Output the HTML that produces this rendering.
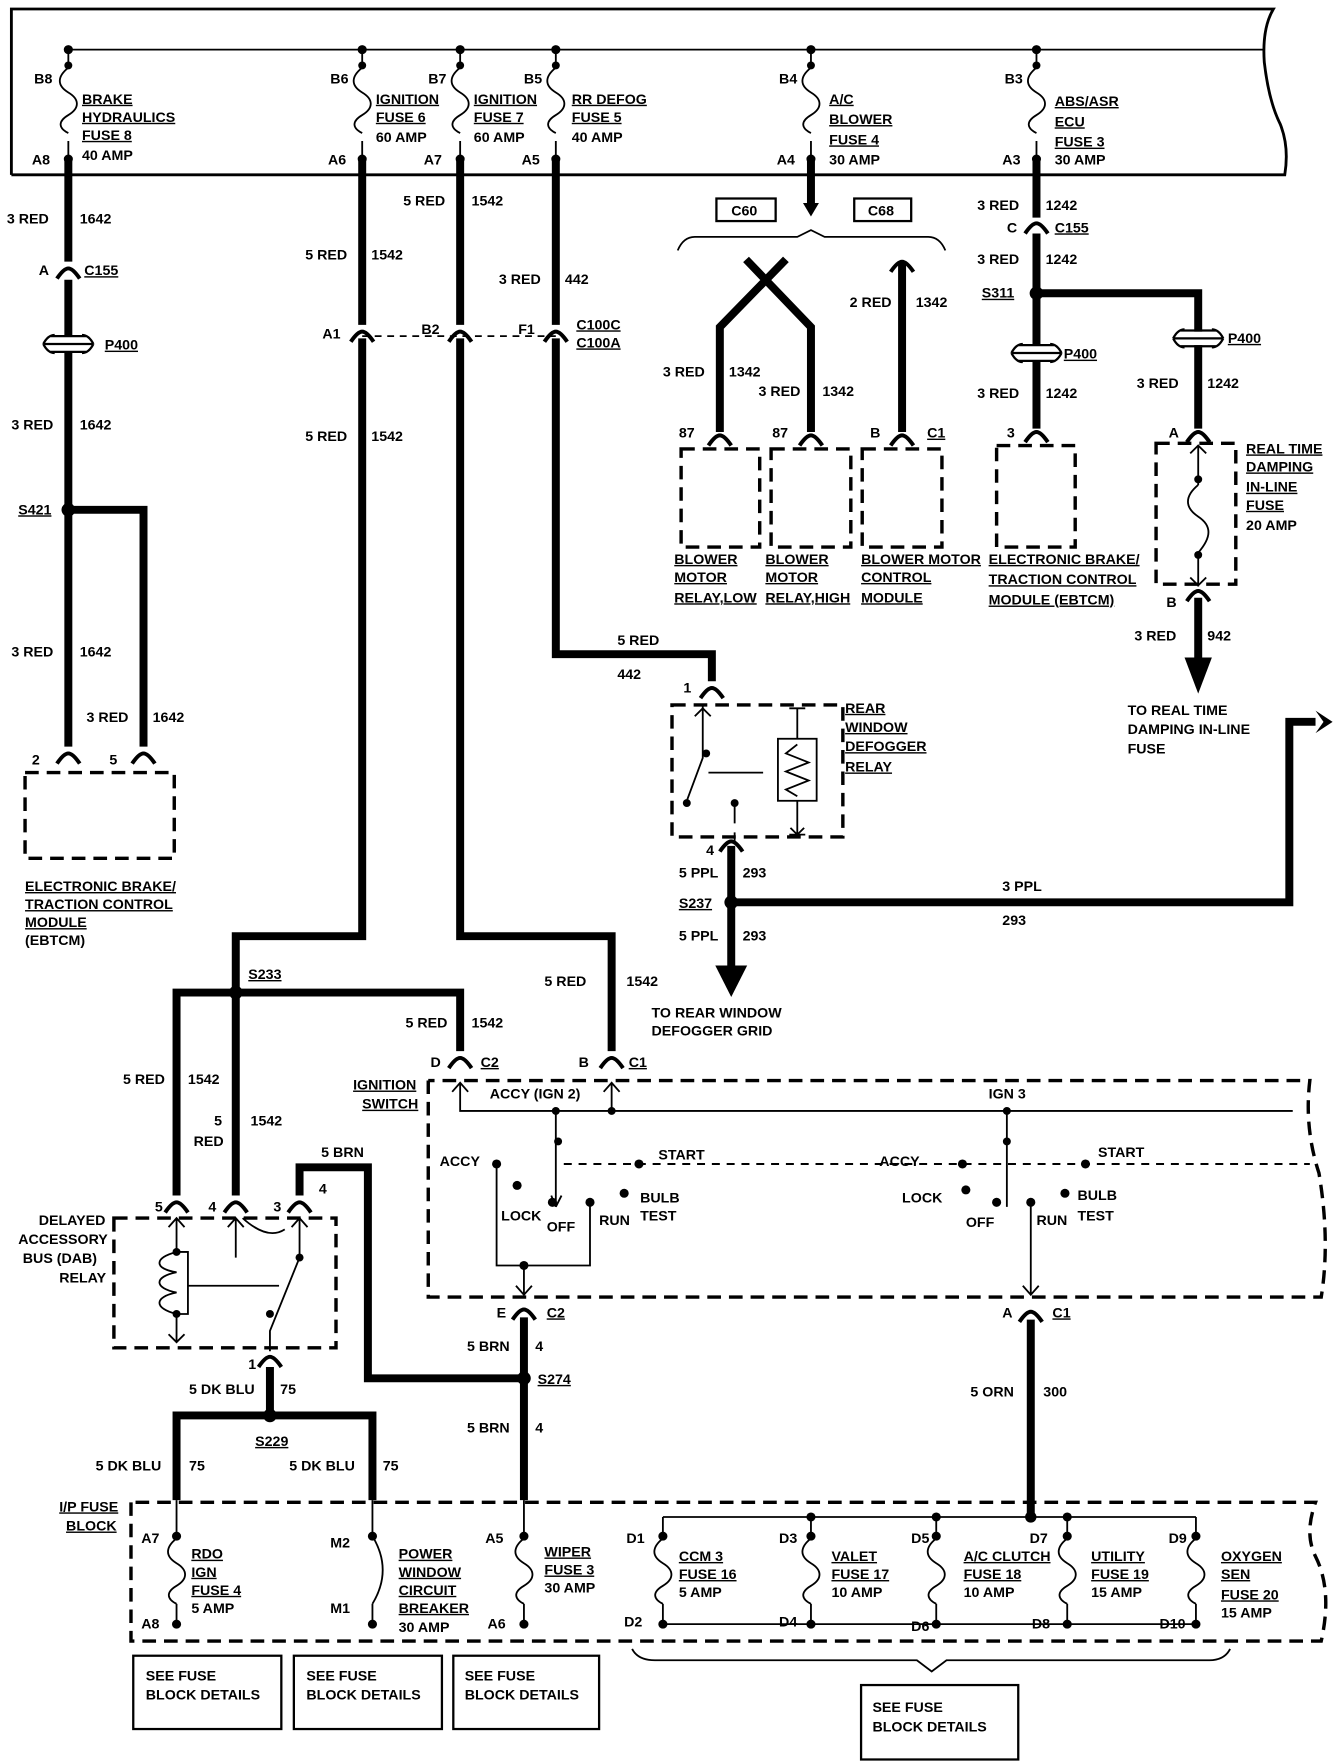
<!DOCTYPE html>
<html><head><meta charset="utf-8"><style>
html,body{margin:0;padding:0;background:#fff}
svg{display:block}
text{font-family:"Liberation Sans",sans-serif;font-size:12.5px;font-weight:bold;fill:#000}
.u{text-decoration:underline}
</style></head><body>
<svg width="1344" height="1764" viewBox="0 0 1180 1564" preserveAspectRatio="none" xmlns="http://www.w3.org/2000/svg">
<defs>
<g id="fz"><path d="M0,-28 C-10,-20 -10,-12 0,-6 C10,0 10,8 0,14 C-10,20 -8,26 0,30" fill="none" stroke="#000" stroke-width="1.6"/></g>
<g id="cn"><path d="M-10,7 Q-4,-2 0,-2 Q4,-2 10,7" fill="none" stroke="#000" stroke-width="3.5"/></g>
<g id="p4"><path d="M-22,0 H22 M-16,-7 H16 M-16,7 H16 M-22,0 Q-18,-8 -12,-8 M22,0 Q18,-8 12,-8 M-22,0 Q-18,8 -12,8 M22,0 Q18,8 12,8" fill="none" stroke="#000" stroke-width="2"/></g>
</defs>
<g fill="none" stroke="#000">
<path d="M10,155 V8 H1118 Q1108,25 1110,55 Q1114,90 1124,110 Q1132,130 1128,155 H10" stroke-width="2.5"/>
<path d="M60,44 H1110" stroke-width="1.6"/>
<g stroke-width="1.6">
<path d="M60,44V55 M60,125V141 M318,44V55 M318,125V141 M404,44V55 M404,125V141 M488,44V55 M488,125V141 M712,44V55 M712,125V141 M910,44V55 M910,125V141"/>
</g>
<use href="#fz" x="60" y="88"/><use href="#fz" x="318" y="88"/><use href="#fz" x="404" y="88"/><use href="#fz" x="488" y="88"/><use href="#fz" x="712" y="88"/><use href="#fz" x="910" y="88"/>
</g>
<g fill="#000">
<circle cx="60" cy="44" r="4"/><circle cx="318" cy="44" r="4"/><circle cx="404" cy="44" r="4"/><circle cx="488" cy="44" r="4"/><circle cx="712" cy="44" r="4"/><circle cx="910" cy="44" r="4"/>
<circle cx="60" cy="58" r="3.5"/><circle cx="318" cy="58" r="3.5"/><circle cx="404" cy="58" r="3.5"/><circle cx="488" cy="58" r="3.5"/><circle cx="712" cy="58" r="3.5"/><circle cx="910" cy="58" r="3.5"/>
<circle cx="60" cy="141" r="4"/><circle cx="318" cy="141" r="4"/><circle cx="404" cy="141" r="4"/><circle cx="488" cy="141" r="4"/><circle cx="712" cy="141" r="4"/><circle cx="910" cy="141" r="4"/>
</g>
<text x="30" y="74">B8</text><text x="28" y="146">A8</text>
<text x="72" y="92" class="u">BRAKE</text><text x="72" y="108" class="u">HYDRAULICS</text><text x="72" y="124" class="u">FUSE 8</text><text x="72" y="142">40 AMP</text>
<text x="290" y="74">B6</text><text x="288" y="146">A6</text>
<text x="330" y="92" class="u">IGNITION</text><text x="330" y="108" class="u">FUSE 6</text><text x="330" y="126">60 AMP</text>
<text x="376" y="74">B7</text><text x="372" y="146">A7</text>
<text x="416" y="92" class="u">IGNITION</text><text x="416" y="108" class="u">FUSE 7</text><text x="416" y="126">60 AMP</text>
<text x="460" y="74">B5</text><text x="458" y="146">A5</text>
<text x="502" y="92" class="u">RR DEFOG</text><text x="502" y="108" class="u">FUSE 5</text><text x="502" y="126">40 AMP</text>
<text x="684" y="74">B4</text><text x="682" y="146">A4</text>
<text x="728" y="92" class="u">A/C</text><text x="728" y="110" class="u">BLOWER</text><text x="728" y="128" class="u">FUSE 4</text><text x="728" y="146">30 AMP</text>
<text x="882" y="74">B3</text><text x="880" y="146">A3</text>
<text x="926" y="94" class="u">ABS/ASR</text><text x="926" y="112" class="u">ECU</text><text x="926" y="130" class="u">FUSE 3</text><text x="926" y="146">30 AMP</text>

<g fill="none" stroke="#000" stroke-width="7" stroke-linejoin="miter">
<path d="M60,141 V232 M60,248 V298 M60,312 V662"/>
<path d="M60,452 H126 V662"/>
<path d="M318,141 V288 M318,300 V830 H207 V1060"/>
<path d="M207,880 H155 V1060 M207,880 H404 V932"/>
<path d="M404,141 V288 M404,300 V830 H537 V932"/>
<path d="M488,141 V288 M488,300 V580 H625 V604"/>
<path d="M712,141 V180"/>
<path d="M632,383 V290 L690,230 M712,383 V290 L655,230 M792,232 V383"/>
<path d="M910,141 V193 M910,207 V306 M910,320 V380"/>
<path d="M910,260 H1052 V294 M1052,306 V380"/>
<path d="M1052,530 V585"/>
<path d="M642,750 V858"/>
<path d="M642,800 H1132 V640 H1155"/>
<path d="M263,1060 V1035 H323 V1222 H460"/>
<path d="M460,1168 V1330"/>
<path d="M237,1212 V1255 M155,1330 V1255 H327 V1330"/>
<path d="M905,1170 V1342"/>
</g>
<g fill="#000">
<path d="M1040,583 H1064 L1052,615 Z"/>
<path d="M628,856 H656 L642,884 Z"/>
<path d="M1155,630 L1170,640 L1155,650 L1162,640 Z"/>
<path d="M705,180 H719 L712,192 Z"/>
</g>
<g>
<use href="#cn" x="60" y="240"/><use href="#cn" x="318" y="296"/><use href="#cn" x="404" y="296"/><use href="#cn" x="488" y="296"/>
<use href="#cn" x="60" y="670"/><use href="#cn" x="126" y="670"/>
<use href="#cn" x="632" y="388"/><use href="#cn" x="712" y="388"/><use href="#cn" x="792" y="388"/><use href="#cn" x="792" y="234"/>
<use href="#cn" x="910" y="200"/><use href="#cn" x="910" y="385"/><use href="#cn" x="1052" y="385"/><use href="#cn" x="1052" y="526"/>
<use href="#cn" x="625" y="612"/><use href="#cn" x="642" y="748"/>
<use href="#cn" x="404" y="940"/><use href="#cn" x="537" y="940"/>
<use href="#cn" x="155" y="1068"/><use href="#cn" x="207" y="1068"/><use href="#cn" x="263" y="1068"/><use href="#cn" x="237" y="1205"/>
<use href="#cn" x="460" y="1163"/><use href="#cn" x="905" y="1165"/>
<use href="#p4" x="60" y="305"/><use href="#p4" x="910" y="313"/><use href="#p4" x="1052" y="300"/>
</g>
<g fill="#000">
<circle cx="60" cy="452" r="6"/><circle cx="910" cy="260" r="6"/><circle cx="642" cy="800" r="6"/><circle cx="207" cy="880" r="6"/><circle cx="460" cy="1222" r="6"/><circle cx="237" cy="1255" r="6"/>
</g>
<g fill="none" stroke="#000" stroke-width="1.5">
<path d="M318,298 H488" stroke-dasharray="6,5"/>
<rect x="629" y="176" width="52" height="20" stroke-width="2"/>
<rect x="750" y="176" width="50" height="20" stroke-width="2"/>
<path d="M595,222 Q600,210 610,210 H700 L712,204 L724,210 H815 Q825,210 830,222"/>
</g>
<g fill="none" stroke="#000" stroke-width="3" stroke-dasharray="12,7">
<rect x="22" y="685" width="131" height="76"/>
<rect x="598" y="398" width="69" height="87"/>
<rect x="677" y="398" width="70" height="87"/>
<rect x="757" y="398" width="70" height="87"/>
<rect x="875" y="395" width="69" height="90"/>
<rect x="1015" y="393" width="70" height="125"/>
<rect x="590" y="625" width="150" height="117"/>
<rect x="100" y="1080" width="195" height="115"/>
<path d="M376,958 V1150 H1160 Q1168,1100 1158,1040 Q1145,1000 1150,958 H376"/>
<path d="M115,1332 V1455 H1160 Q1170,1410 1155,1380 Q1145,1360 1155,1332 H115"/>
<path d="M495,1032 H1150" stroke-width="1.8" stroke-dasharray="7,6"/>
</g>
<g fill="none" stroke="#000" stroke-width="1.6">
<path d="M617,625 V672 L603,710 M645,710 V730 M645,738 V748 M622,685 H670" />
<path d="M610,635 L617,628 L624,635 M693,628 H707 M700,628 V655 M693,740 H707 M700,710 V740 M694,734 L700,740 L706,734"/>
<rect x="683" y="655" width="34" height="55"/>
<path d="M700,660 L690,668 L710,676 L690,684 L710,692 L690,700 L700,706"/>
<path d="M1052,395 V430 M1052,490 V520"/>
<path d="M1045,402 L1052,395 L1059,402 M1045,512 L1052,519 L1059,512"/>
<path d="M1052,430 C1040,440 1040,450 1052,458 C1064,466 1064,476 1052,490"/>
<path d="M155,1080 V1110 M155,1165 V1190 M148,1088 L155,1080 L162,1088 M148,1183 L155,1190 L162,1183"/>
<path d="M155,1110 C135,1115 135,1125 155,1128 C135,1132 135,1142 155,1146 C135,1150 135,1160 155,1165"/>
<path d="M155,1110 H165 V1165 H155"/>
<path d="M207,1080 V1115 M200,1088 L207,1080 L214,1088 M263,1080 V1115 L237,1180 V1198 M256,1088 L263,1080 L270,1088 M165,1140 H245"/>
<path d="M404,960 V985 H1135 M537,960 V985 M397,968 L404,960 L411,968 M530,968 L537,960 L544,968"/>
<path d="M488,985 V1070 M488,1070 L484,1060 M488,1070 L493,1060"/>
<path d="M436,1032 V1122 H518 V1066 M460,1122 V1148 M453,1140 L460,1148 L467,1140"/>
<path d="M884,985 V1070 M905,1068 V1148 M898,1140 L905,1148 L912,1140"/>
<path d="M213,1080 Q235,1100 250,1090"/>
</g>
<g fill="#000">
<circle cx="488" cy="985" r="3.5"/><circle cx="537" cy="985" r="3.5"/><circle cx="490" cy="1012" r="3.5"/>
<circle cx="436" cy="1032" r="4"/><circle cx="454" cy="1051" r="4"/><circle cx="485" cy="1066" r="4"/><circle cx="518" cy="1066" r="4"/><circle cx="548" cy="1058" r="4"/><circle cx="561" cy="1032" r="4"/>
<circle cx="460" cy="1122" r="4"/><circle cx="884" cy="985" r="3.5"/><circle cx="884" cy="1012" r="3.5"/>
<circle cx="845" cy="1032" r="4"/><circle cx="848" cy="1055" r="4"/><circle cx="875" cy="1066" r="4"/><circle cx="905" cy="1066" r="4"/><circle cx="935" cy="1058" r="4"/><circle cx="953" cy="1032" r="4"/>
<circle cx="620" cy="668" r="3.5"/><circle cx="603" cy="712" r="3.5"/><circle cx="645" cy="712" r="3.5"/>
<circle cx="1052" cy="425" r="3.5"/><circle cx="1052" cy="492" r="3.5"/>
<circle cx="155" cy="1110" r="3.5"/><circle cx="155" cy="1165" r="3.5"/><circle cx="263" cy="1115" r="3.5"/><circle cx="237" cy="1165" r="3.5"/>
</g>
<g fill="none" stroke="#000" stroke-width="1.6">
<path d="M155,1330 V1362 M155,1422 V1440 M327,1330 V1362 M327,1422 V1440 M327,1362 Q345,1392 327,1422 M460,1330 V1362 M460,1422 V1440"/>
<path d="M582,1345 H1050 M582,1345 V1362 M582,1422 V1440 H1050 M712,1345 V1362 M712,1422 V1440 M822,1345 V1362 M822,1422 V1440 M937,1345 V1362 M937,1422 V1440 M1050,1345 V1362 M1050,1422 V1440"/>
<path d="M555,1462 Q560,1472 575,1472 H805 L818,1482 L831,1472 H1062 Q1075,1472 1080,1462"/>
<rect x="117" y="1468" width="130" height="65" stroke-width="2"/>
<rect x="258" y="1468" width="130" height="65" stroke-width="2"/>
<rect x="398" y="1468" width="128" height="65" stroke-width="2"/>
<rect x="756" y="1494" width="138" height="66" stroke-width="2"/>
</g>
<use href="#fz" x="155" y="1392"/><use href="#fz" x="460" y="1392"/><use href="#fz" x="582" y="1392"/><use href="#fz" x="712" y="1392"/><use href="#fz" x="822" y="1392"/><use href="#fz" x="937" y="1392"/><use href="#fz" x="1050" y="1392"/>
<g fill="#000">
<circle cx="155" cy="1362" r="4"/><circle cx="155" cy="1440" r="4"/><circle cx="327" cy="1362" r="4"/><circle cx="327" cy="1440" r="4"/><circle cx="460" cy="1362" r="4"/><circle cx="460" cy="1440" r="4"/>
<circle cx="582" cy="1362" r="4"/><circle cx="582" cy="1440" r="4"/><circle cx="712" cy="1345" r="4"/><circle cx="712" cy="1362" r="4"/><circle cx="712" cy="1440" r="4"/><circle cx="822" cy="1345" r="4"/><circle cx="822" cy="1362" r="4"/><circle cx="822" cy="1440" r="4"/><circle cx="905" cy="1345" r="5"/><circle cx="937" cy="1345" r="4"/><circle cx="937" cy="1362" r="4"/><circle cx="937" cy="1440" r="4"/><circle cx="1050" cy="1362" r="4"/><circle cx="1050" cy="1440" r="4"/>
</g>
<text x="6" y="198">3 RED</text><text x="70" y="198">1642</text>
<text x="34" y="244">A</text><text x="74" y="244" class="u">C155</text>
<text x="92" y="310" class="u">P400</text>
<text x="10" y="381">3 RED</text><text x="70" y="381">1642</text>
<text x="16" y="456" class="u">S421</text>
<text x="10" y="582">3 RED</text><text x="70" y="582">1642</text>
<text x="76" y="640">3 RED</text><text x="134" y="640">1642</text>
<text x="28" y="678">2</text><text x="96" y="678">5</text>
<text x="22" y="790" class="u">ELECTRONIC BRAKE/</text><text x="22" y="806" class="u">TRACTION CONTROL</text><text x="22" y="822" class="u">MODULE</text><text x="22" y="838">(EBTCM)</text>
<text x="354" y="182">5 RED</text><text x="414" y="182">1542</text>
<text x="268" y="230">5 RED</text><text x="326" y="230">1542</text>
<text x="438" y="252">3 RED</text><text x="496" y="252">442</text>
<text x="283" y="300">A1</text><text x="370" y="296">B2</text><text x="455" y="296">F1</text>
<text x="506" y="292" class="u">C100C</text><text x="506" y="308" class="u">C100A</text>
<text x="268" y="391">5 RED</text><text x="326" y="391">1542</text>
<text x="642" y="191">C60</text><text x="762" y="191">C68</text>
<text x="746" y="272">2 RED</text><text x="804" y="272">1342</text>
<text x="582" y="334">3 RED</text><text x="640" y="334">1342</text>
<text x="666" y="351">3 RED</text><text x="722" y="351">1342</text>
<text x="596" y="388">87</text><text x="678" y="388">87</text><text x="764" y="388">B</text><text x="814" y="388" class="u">C1</text>
<text x="592" y="500" class="u">BLOWER</text><text x="592" y="516" class="u">MOTOR</text><text x="592" y="534" class="u">RELAY,LOW</text>
<text x="672" y="500" class="u">BLOWER</text><text x="672" y="516" class="u">MOTOR</text><text x="672" y="534" class="u">RELAY,HIGH</text>
<text x="756" y="500" class="u">BLOWER MOTOR</text><text x="756" y="516" class="u">CONTROL</text><text x="756" y="534" class="u">MODULE</text>
<text x="858" y="186">3 RED</text><text x="918" y="186">1242</text>
<text x="884" y="206">C</text><text x="926" y="206" class="u">C155</text>
<text x="858" y="234">3 RED</text><text x="918" y="234">1242</text>
<text x="862" y="264" class="u">S311</text>
<text x="934" y="318" class="u">P400</text><text x="1078" y="304" class="u">P400</text>
<text x="858" y="353">3 RED</text><text x="918" y="353">1242</text>
<text x="998" y="344">3 RED</text><text x="1060" y="344">1242</text>
<text x="884" y="388">3</text><text x="1026" y="388">A</text>
<text x="868" y="500" class="u">ELECTRONIC BRAKE/</text><text x="868" y="518" class="u">TRACTION CONTROL</text><text x="868" y="536" class="u">MODULE (EBTCM)</text>
<text x="1094" y="402" class="u">REAL TIME</text><text x="1094" y="418" class="u">DAMPING</text><text x="1094" y="436" class="u">IN-LINE</text><text x="1094" y="452" class="u">FUSE</text><text x="1094" y="470">20 AMP</text>
<text x="1024" y="538">B</text>
<text x="996" y="568">3 RED</text><text x="1060" y="568">942</text>
<text x="990" y="634">TO REAL TIME</text><text x="990" y="651">DAMPING IN-LINE</text><text x="990" y="668">FUSE</text>
<text x="542" y="572">5 RED</text><text x="542" y="602">442</text>
<text x="600" y="614">1</text>
<text x="742" y="632" class="u">REAR</text><text x="742" y="649" class="u">WINDOW</text><text x="742" y="666" class="u">DEFOGGER</text><text x="742" y="684" class="u">RELAY</text>
<text x="620" y="758">4</text>
<text x="596" y="778">5 PPL</text><text x="652" y="778">293</text>
<text x="596" y="805" class="u">S237</text>
<text x="596" y="834">5 PPL</text><text x="652" y="834">293</text>
<text x="880" y="790">3 PPL</text><text x="880" y="820">293</text>
<text x="572" y="902">TO REAR WINDOW</text><text x="572" y="918">DEFOGGER GRID</text>
<text x="218" y="868" class="u">S233</text>
<text x="478" y="874">5 RED</text><text x="550" y="874">1542</text>
<text x="356" y="911">5 RED</text><text x="414" y="911">1542</text>
<text x="378" y="946">D</text><text x="422" y="946" class="u">C2</text><text x="508" y="946">B</text><text x="552" y="946" class="u">C1</text>
<text x="310" y="966" class="u">IGNITION</text><text x="318" y="983" class="u">SWITCH</text>
<text x="430" y="974">ACCY (IGN 2)</text><text x="868" y="974">IGN 3</text>
<text x="386" y="1034">ACCY</text><text x="578" y="1028">START</text>
<text x="440" y="1082">LOCK</text><text x="480" y="1092">OFF</text><text x="526" y="1086">RUN</text>
<text x="562" y="1066">BULB</text><text x="562" y="1082">TEST</text>
<text x="772" y="1034">ACCY</text><text x="964" y="1026">START</text>
<text x="792" y="1066">LOCK</text><text x="848" y="1088">OFF</text><text x="910" y="1086">RUN</text>
<text x="946" y="1064">BULB</text><text x="946" y="1082">TEST</text>
<text x="108" y="961">5 RED</text><text x="165" y="961">1542</text>
<text x="188" y="998">5</text><text x="220" y="998">1542</text><text x="170" y="1016">RED</text>
<text x="282" y="1026">5 BRN</text><text x="280" y="1058">4</text>
<text x="136" y="1074">5</text><text x="183" y="1074">4</text><text x="240" y="1074">3</text>
<text x="34" y="1086">DELAYED</text><text x="16" y="1103">ACCESSORY</text><text x="20" y="1120">BUS (DAB)</text><text x="52" y="1137">RELAY</text>
<text x="218" y="1214">1</text>
<text x="166" y="1236">5 DK BLU</text><text x="246" y="1236">75</text>
<text x="224" y="1282" class="u">S229</text>
<text x="84" y="1304">5 DK BLU</text><text x="166" y="1304">75</text>
<text x="254" y="1304">5 DK BLU</text><text x="336" y="1304">75</text>
<text x="436" y="1168">E</text><text x="480" y="1168" class="u">C2</text>
<text x="410" y="1198">5 BRN</text><text x="470" y="1198">4</text>
<text x="472" y="1227" class="u">S274</text>
<text x="410" y="1270">5 BRN</text><text x="470" y="1270">4</text>
<text x="880" y="1168">A</text><text x="924" y="1168" class="u">C1</text>
<text x="852" y="1238">5 ORN</text><text x="916" y="1238">300</text>
<text x="52" y="1340" class="u">I/P FUSE</text><text x="58" y="1357" class="u">BLOCK</text>
<text x="124" y="1368">A7</text><text x="124" y="1444">A8</text>
<text x="168" y="1382" class="u">RDO</text><text x="168" y="1398" class="u">IGN</text><text x="168" y="1414" class="u">FUSE 4</text><text x="168" y="1430">5 AMP</text>
<text x="290" y="1372">M2</text><text x="290" y="1430">M1</text>
<text x="350" y="1382" class="u">POWER</text><text x="350" y="1398" class="u">WINDOW</text><text x="350" y="1414" class="u">CIRCUIT</text><text x="350" y="1430" class="u">BREAKER</text><text x="350" y="1447">30 AMP</text>
<text x="426" y="1368">A5</text><text x="428" y="1444">A6</text>
<text x="478" y="1380" class="u">WIPER</text><text x="478" y="1396" class="u">FUSE 3</text><text x="478" y="1412">30 AMP</text>
<text x="550" y="1368">D1</text><text x="548" y="1442">D2</text>
<text x="596" y="1384" class="u">CCM 3</text><text x="596" y="1400" class="u">FUSE 16</text><text x="596" y="1416">5 AMP</text>
<text x="684" y="1368">D3</text><text x="684" y="1442">D4</text>
<text x="730" y="1384" class="u">VALET</text><text x="730" y="1400" class="u">FUSE 17</text><text x="730" y="1416">10 AMP</text>
<text x="800" y="1368">D5</text><text x="800" y="1446">D6</text>
<text x="846" y="1384" class="u">A/C CLUTCH</text><text x="846" y="1400" class="u">FUSE 18</text><text x="846" y="1416">10 AMP</text>
<text x="904" y="1368">D7</text><text x="906" y="1444">D8</text>
<text x="958" y="1384" class="u">UTILITY</text><text x="958" y="1400" class="u">FUSE 19</text><text x="958" y="1416">15 AMP</text>
<text x="1026" y="1368">D9</text><text x="1018" y="1444">D10</text>
<text x="1072" y="1384" class="u">OXYGEN</text><text x="1072" y="1400" class="u">SEN</text><text x="1072" y="1418" class="u">FUSE 20</text><text x="1072" y="1434">15 AMP</text>
<text x="128" y="1490">SEE FUSE</text><text x="128" y="1507">BLOCK DETAILS</text>
<text x="269" y="1490">SEE FUSE</text><text x="269" y="1507">BLOCK DETAILS</text>
<text x="408" y="1490">SEE FUSE</text><text x="408" y="1507">BLOCK DETAILS</text>
<text x="766" y="1518">SEE FUSE</text><text x="766" y="1535">BLOCK DETAILS</text>
</svg>
</body></html>
